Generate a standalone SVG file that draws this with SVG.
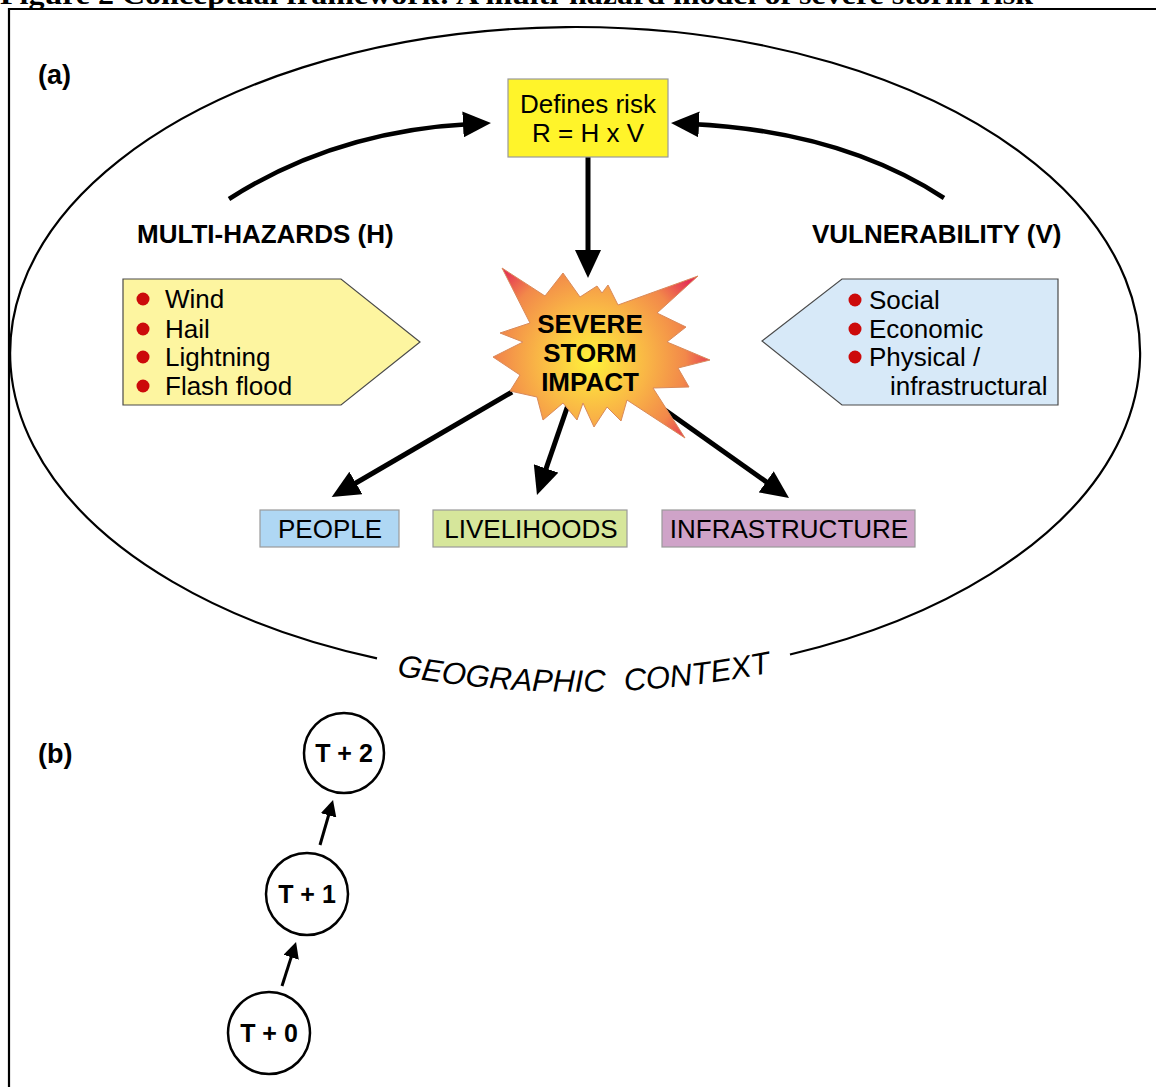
<svg xmlns="http://www.w3.org/2000/svg" width="1156" height="1087" viewBox="0 0 1156 1087">
  <style>
    text { font-family: "Liberation Sans", Arial, sans-serif; fill: #000; }
    .title { font-family: "Liberation Serif", "Times New Roman", serif; font-weight: bold; font-size: 28px; }
    .lbl { font-size: 27px; font-weight: bold; }
    .head { font-size: 26px; font-weight: bold; }
    .step { font-size: 25px; font-weight: bold; }
    .body { font-size: 26px; }
    .box { stroke: #9a9a9a; stroke-width: 1.2; }
    .tag { stroke: #4a4a4a; stroke-width: 1.2; }
    .bullet { fill: #cc0a0a; }
    .conn { fill: none; stroke: #000; stroke-width: 5; }
    .curve { fill: none; stroke: #000; stroke-width: 4.5; }
    .thin { fill: none; stroke: #000; stroke-width: 3; }
    .ring { fill: #fff; stroke: #000; stroke-width: 2.5; }
  </style>
  <defs>
    <marker id="bigHead" markerUnits="userSpaceOnUse" markerWidth="30" markerHeight="26" viewBox="0 0 30 26" refX="8" refY="13" orient="auto">
      <path d="M0,0 L28,13 L0,26 Z" fill="#000"/>
    </marker>
    <marker id="smallHead" markerUnits="userSpaceOnUse" markerWidth="18" markerHeight="16" viewBox="0 0 18 16" refX="4" refY="8" orient="auto">
      <path d="M0,0 L16,8 L0,16 Z" fill="#000"/>
    </marker>
    <radialGradient id="burst" gradientUnits="userSpaceOnUse" cx="592" cy="360" r="125">
      <stop offset="0" stop-color="#fff23a"/>
      <stop offset="0.45" stop-color="#f9b446"/>
      <stop offset="0.75" stop-color="#f2884a"/>
      <stop offset="1" stop-color="#e42e55"/>
    </radialGradient>
    <path id="contextArc" d="M394,675 Q584,710 774,672"/>
  </defs>

  <!-- caption, cut at the top edge -->
  <text class="title" x="0" y="4" textLength="1033" lengthAdjust="spacingAndGlyphs">Figure 2 Conceptual framework: A multi-hazard model of severe storm risk</text>

  <!-- outer frame -->
  <path d="M9,1095 V9 H1165" fill="none" stroke="#000" stroke-width="2.2"/>

  <!-- panel labels -->
  <text class="lbl" x="38" y="84">(a)</text>
  <text class="lbl" x="38" y="763">(b)</text>

  <!-- geographic context boundary with gap for its label -->
  <g id="context">
    <path d="M377,658.3 A565,326 0 1 1 790,654.5" fill="none" stroke="#000" stroke-width="2.2"/>
    <text font-size="31" font-style="italic" word-spacing="10"><textPath href="#contextArc" startOffset="50%" text-anchor="middle">GEOGRAPHIC CONTEXT</textPath></text>
  </g>

  <!-- connectors -->
  <g id="connectors">
    <path class="curve" d="M229,199 Q335,131 471,124" marker-end="url(#bigHead)"/>
    <path class="curve" d="M944,198 Q841,131 691,124" marker-end="url(#bigHead)"/>
    <path class="conn" d="M588,157 V258" marker-end="url(#bigHead)"/>
    <path class="conn" d="M512,392 L349,487" marker-end="url(#bigHead)"/>
    <path class="conn" d="M568,405 L543.5,476" marker-end="url(#bigHead)"/>
    <path class="conn" d="M648,398 L772.7,486.4" marker-end="url(#bigHead)"/>
    <path class="thin" d="M282,986 L292.4,953.4" marker-end="url(#smallHead)"/>
    <path class="thin" d="M320,845 L329.7,811.5" marker-end="url(#smallHead)"/>
  </g>

  <!-- risk definition -->
  <g id="risk">
    <rect class="box" x="508" y="79" width="160" height="78" fill="#fff42a"/>
    <text class="body" x="588" y="113" text-anchor="middle">Defines risk</text>
    <text class="body" x="588" y="142" text-anchor="middle">R = H x V</text>
  </g>

  <!-- section headings -->
  <g id="hazards-heading">
    <text class="head" x="137" y="243">MULTI-HAZARDS (H)</text>
  </g>
  <g id="vulnerability-heading">
    <text class="head" x="812" y="243">VULNERABILITY (V)</text>
  </g>

  <!-- hazard list -->
  <g id="hazards">
    <path class="tag" d="M123,279 H341 L420,342 L341,405 H123 Z" fill="#fdf5a0"/>
    <circle class="bullet" cx="143" cy="299" r="6.5"/>
    <circle class="bullet" cx="143" cy="329" r="6.5"/>
    <circle class="bullet" cx="143" cy="357" r="6.5"/>
    <circle class="bullet" cx="143" cy="386" r="6.5"/>
    <text class="body" x="165" y="308">Wind</text>
    <text class="body" x="165" y="338">Hail</text>
    <text class="body" x="165" y="366">Lightning</text>
    <text class="body" x="165" y="395">Flash flood</text>
  </g>

  <!-- vulnerability list -->
  <g id="vulnerability">
    <path class="tag" d="M1058,279 H842 L762,341 L842,405 H1058 Z" fill="#d7e9f8"/>
    <circle class="bullet" cx="855" cy="300" r="6.5"/>
    <circle class="bullet" cx="855" cy="329" r="6.5"/>
    <circle class="bullet" cx="855" cy="357" r="6.5"/>
    <text class="body" x="869" y="309">Social</text>
    <text class="body" x="869" y="338">Economic</text>
    <text class="body" x="869" y="366">Physical /</text>
    <text class="body" x="890" y="395">infrastructural</text>
  </g>

  <!-- central impact burst -->
  <g id="impact">
    <polygon points="502,268 545,296 563,273 580,297 597,286 602,293 608,285 618,305 698,276 657,313 686,327 667,342 710,360 678,368 689,387 653,388 685,438 627,400 621,421 607,407 594,427 583,403 577,420 563,403 543,420 537,397 510,391 520,375 493,357 523,342 500,333 530,323" fill="url(#burst)" stroke="#d98a5a" stroke-width="1"/>
    <text class="head" x="590" y="333" text-anchor="middle">SEVERE</text>
    <text class="head" x="590" y="362" text-anchor="middle">STORM</text>
    <text class="head" x="590" y="391" text-anchor="middle">IMPACT</text>
  </g>

  <!-- impacted elements -->
  <g id="people">
    <rect class="box" x="260" y="510" width="139" height="37" fill="#afd7f4"/>
    <text class="body" x="330" y="538" text-anchor="middle">PEOPLE</text>
  </g>
  <g id="livelihoods">
    <rect class="box" x="433" y="510" width="194" height="37" fill="#d6e69b"/>
    <text class="body" x="531" y="538" text-anchor="middle">LIVELIHOODS</text>
  </g>
  <g id="infrastructure">
    <rect class="box" x="662" y="510" width="253" height="37" fill="#cfa3c8"/>
    <text class="body" x="789" y="538" text-anchor="middle">INFRASTRUCTURE</text>
  </g>

  <!-- time steps -->
  <g id="t0">
    <circle class="ring" cx="269" cy="1033" r="41"/>
    <text class="step" x="269" y="1042" text-anchor="middle">T + 0</text>
  </g>
  <g id="t1">
    <circle class="ring" cx="307" cy="894" r="41"/>
    <text class="step" x="307" y="903" text-anchor="middle">T + 1</text>
  </g>
  <g id="t2">
    <circle class="ring" cx="344" cy="753" r="40"/>
    <text class="step" x="344" y="762" text-anchor="middle">T + 2</text>
  </g>
</svg>
